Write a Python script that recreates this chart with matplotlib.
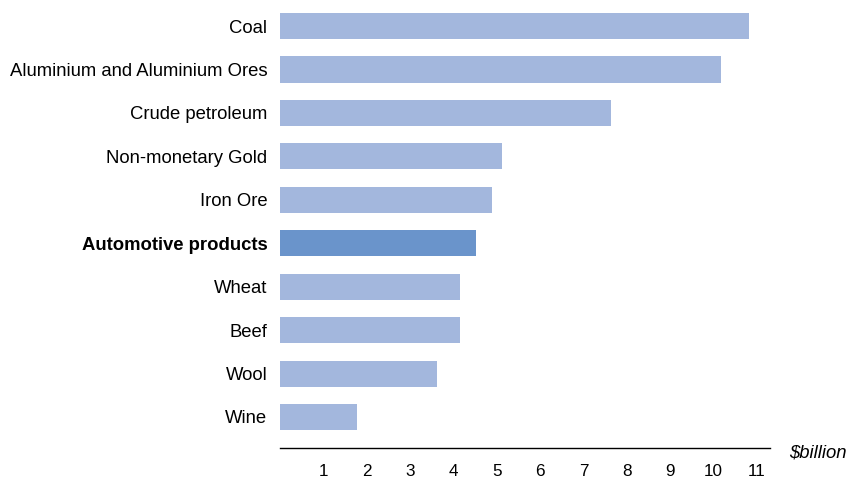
import matplotlib.pyplot as plt

plt.rcParams['font.family'] = ['Liberation Sans', 'DejaVu Sans']

products = ['Coal', 'Aluminium and Aluminium Ores', 'Crude petroleum',
            'Non-monetary Gold', 'Iron Ore', 'Automotive products',
            'Wheat', 'Beef', 'Wool', 'Wine']
values = [10.82, 10.16, 7.63, 5.12, 4.89, 4.53, 4.15, 4.15, 3.62, 1.78]
highlight = 'Automotive products'
xticks = list(range(1, 12))

colors = ['#6A94CB' if p == highlight else '#A3B7DD' for p in products]

fig = plt.figure(figsize=(8.48, 4.8), dpi=100)
ax = fig.add_axes([0.330, 0.0667, 0.578, 0.9333])

ypos = list(range(len(products)))
ax.barh(ypos, values, height=0.6, color=colors)

ax.set_ylim(len(products) - 1 + 0.714, -0.6)
ax.set_xlim(0, 11.3)
ax.set_yticks(ypos)
ax.set_yticklabels(products, fontsize=13.3)
for lbl in ax.get_yticklabels():
    if lbl.get_text() == highlight:
        lbl.set_fontweight('bold')
ax.set_xticks(xticks)
ax.set_xticklabels([str(t) for t in xticks], fontsize=12.3)
ax.tick_params(axis='y', length=0, pad=9)
ax.tick_params(axis='x', length=0, pad=11.5)

for s in ['top', 'right', 'left']:
    ax.spines[s].set_visible(False)
ax.spines['bottom'].set_linewidth(1.0)

fig.text(0.931, 1 - 453 / 480, '$billion', fontsize=13.3, style='italic',
         va='center', ha='left')

fig.savefig('out.png', dpi=100)
